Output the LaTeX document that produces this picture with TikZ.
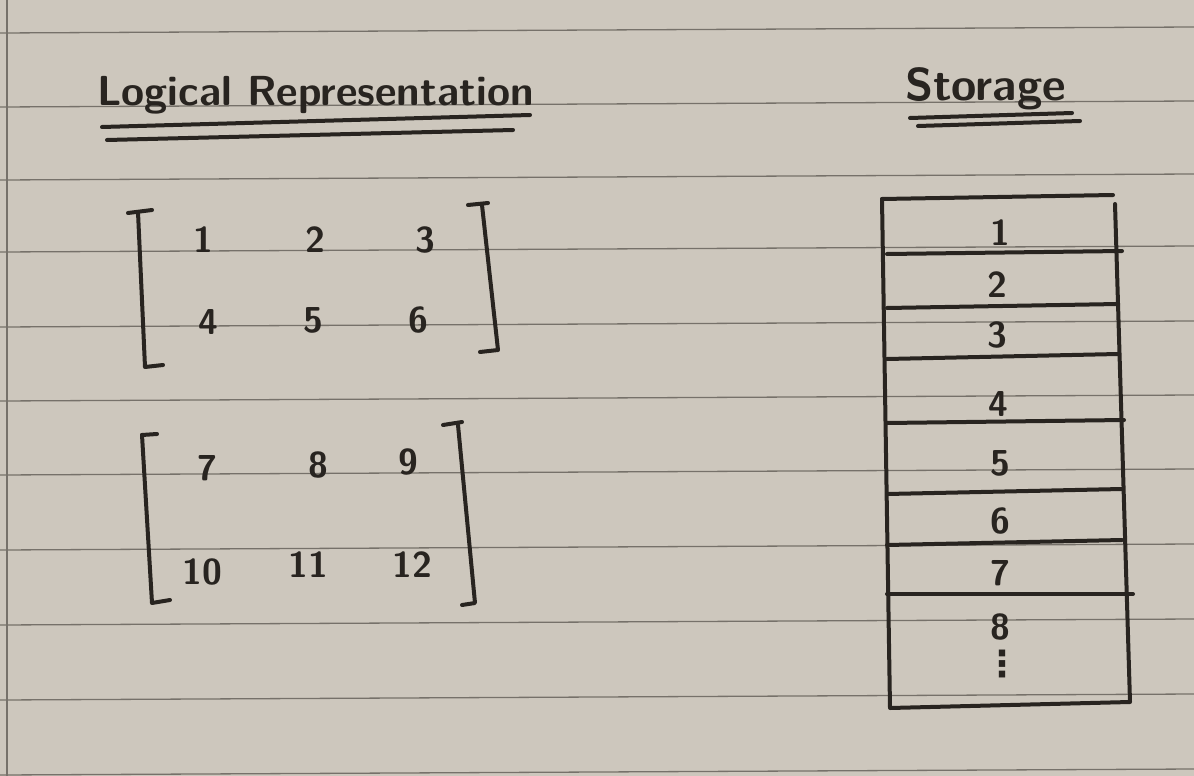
\documentclass[tikz,border=0pt]{standalone}
\usepackage{fontspec}
\newfontfamily\dotfont{DejaVu Sans}
\usetikzlibrary{calc}
\definecolor{paper}{RGB}{205,199,189}
\definecolor{ink}{RGB}{40,36,32}
\definecolor{rulegray}{RGB}{118,113,106}
\tikzstyle{ruled} = [draw=rulegray,line width=1.3pt]
\tikzstyle{pen} = [draw=ink,line width=4pt,line cap=round,line join=round]
\tikzstyle{title} = [text=ink,font=\fontsize{42}{48}\selectfont\sffamily\bfseries,inner sep=0pt,anchor=base west]
\tikzstyle{entry} = [text=ink,font=\fontsize{36}{40}\selectfont\sffamily\bfseries,inner sep=0pt]

\begin{document}
\begin{tikzpicture}[x=1pt,y=-1pt]

    \useasboundingbox (0,0) rectangle (1194,776);
    \fill[paper] (0,0) rectangle (1194,776);

    % ruled paper
    \foreach \y in {33,107,180,252,327,401,475,550,625,700,775}
        \path[ruled] (0,\y) -- (1194,{\y-6});
    \path[ruled] (7,0) -- (7,776);

    % titles
    \node[title] (logical) at (97,105) {Logical Representation};
    \path[pen] (102,127) -- (530,115);
    \path[pen] (107,140) -- (513,130);

    \node[title,font=\fontsize{46}{52}\selectfont\sffamily\bfseries] (storage) at (905,100) {Storage};
    \path[pen] (910,118) -- (1072,113);
    \path[pen] (918,126) -- (1080,121);

    % first matrix
    \foreach \pos/ \name in {{(203,240)/1}, {(315,240)/2}, {(425,240)/3}, {(208,322)/4}, {(313,320)/5}, {(418,320)/6}}
        \node[entry] (m\name) at \pos {\name};
    \path[pen] (128,213) -- (152,210);
    \path[pen] (138,212) -- (145,367) -- (163,365);
    \path[pen] (468,205) -- (488,203);
    \path[pen] (482,205) -- (498,350) -- (480,352);

    % second matrix
    \foreach \pos/ \name in {{(207,468)/7}, {(318,465)/8}, {(408,462)/9}, {(202,572)/10}, {(308,565)/11}, {(412,565)/12}}
        \node[entry] (m\name) at \pos {\name};
    \path[pen] (142,435) -- (157,434);
    \path[pen] (142,435) -- (152,603) -- (170,600);
    \path[pen] (443,425) -- (462,422);
    \path[pen] (458,425) -- (475,603) -- (462,605);

    % storage column
    \path[pen] (882,199) -- (1113,195);
    \path[pen] (882,199) -- (890,708) -- (1130,702) -- (1115,204);
    \foreach \ya/ \yb/ \xb in {254/251/1122, 308/304/1118, 359/354/1118, 423/420/1124, 494/489/1122, 545/540/1122, 594/594/1133}
        \path[pen] (887,\ya) -- (\xb,\yb);

    \foreach \pos/ \name in {{(1000,233)/1}, {(997,285)/2}, {(997,335)/3}, {(998,404)/4}, {(1000,463)/5}, {(1000,521)/6}, {(1000,573)/7}, {(1000,627)/8}}
        \node[entry] (s\name) at \pos {\name};
    \node[entry,font=\fontsize{36}{40}\selectfont\dotfont\bfseries] (sdots) at (1002,664) {⋮};

\end{tikzpicture}
\end{document}
